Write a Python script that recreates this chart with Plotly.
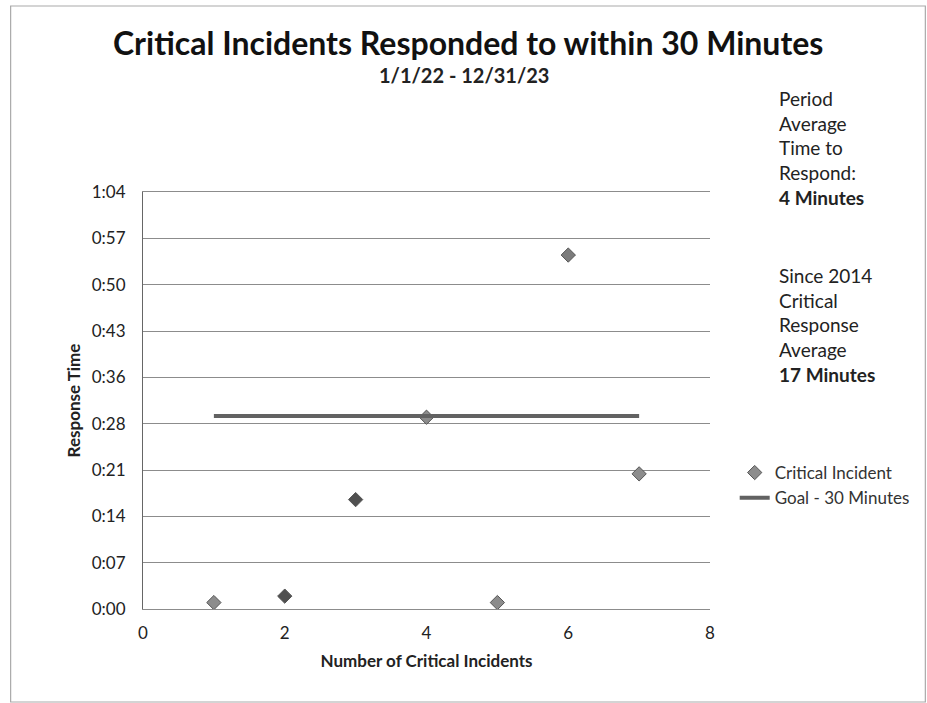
import plotly.graph_objects as go

# Data
incident_num = [1, 2, 3, 4, 5, 6, 7]
response_min = [1, 2, 17, 29.8, 1, 55, 21]
goal_x = [1, 7]
goal_y = [30, 30]
y_tick_labels = ["0:00", "0:07", "0:14", "0:21", "0:28", "0:36", "0:43", "0:50", "0:57", "1:04"]
y_tick_step = 7.2  # minutes (Excel 0.005 day)
x_ticks = [0, 2, 4, 6, 8]

FONT = "Lato, 'Open Sans', sans-serif"
L, R, T, B = 143, 717, 192, 609
PW, PH = R - L, B - T


def px(x):
    return (x - L) / PW


def py(y):
    return (B - y) / PH


marker_colors = ["#8c8c8c", "#505050", "#505050", "#8c8c8c", "#8c8c8c", "#7c7c7c", "#8c8c8c"]

fig = go.Figure()
fig.add_trace(go.Scatter(
    x=incident_num, y=response_min, mode="markers", name="Critical Incident",
    marker=dict(symbol="diamond", size=11, color=marker_colors, line=dict(color="#555555", width=1)),
))
fig.add_trace(go.Scatter(
    x=goal_x, y=goal_y, mode="lines", name="Goal - 30 Minutes",
    line=dict(color="#626262", width=4),
))

tickvals = [i * y_tick_step for i in range(len(y_tick_labels))]

fig.update_layout(
    width=927, height=703,
    margin=dict(l=L, r=927 - R, t=T, b=703 - B),
    paper_bgcolor="white", plot_bgcolor="white",
    font=dict(family=FONT, size=17, color="#222"),
    showlegend=True,
    legend=dict(x=px(742), y=py(455), xanchor="left", yanchor="top",
                font=dict(size=17, color="#333"), tracegroupgap=0,
                bgcolor="rgba(0,0,0,0)", itemwidth=30),
    xaxis=dict(range=[0, 8], tickvals=x_ticks, showgrid=False, zeroline=False,
               showline=True, mirror=True, linecolor="#8c8c8c", linewidth=1, ticks="",
               tickfont=dict(size=17, color="#222"), ticklabelstandoff=9,
               title=dict(text="<b>Number of Critical Incidents</b>", font=dict(size=17, color="#222"), standoff=12)),
    yaxis=dict(range=[0, tickvals[-1]], tickvals=tickvals, ticktext=y_tick_labels,
               showgrid=True, gridcolor="#8c8c8c", gridwidth=1, zeroline=False,
               showline=True, linecolor="#666", linewidth=1, ticks="",
               tickfont=dict(size=17, color="#222"), ticklabelstandoff=13,
               title=dict(text="<b>Response Time</b>", font=dict(size=17, color="#222"), standoff=6)),
)

# Chart border
fig.add_shape(type="rect", xref="paper", yref="paper",
              x0=px(9), x1=px(935), y0=py(702), y1=py(6),
              line=dict(color="#aaaaaa", width=1.2), layer="below")

# Title and subtitle
fig.add_annotation(text="<b>Critical Incidents Responded to within 30 Minutes</b>",
                   xref="paper", yref="paper", x=px(472), y=py(42),
                   showarrow=False, font=dict(size=32, color="#111"), xanchor="center", yanchor="middle")
fig.add_annotation(text="<b>1/1/22 - 12/31/23</b>",
                   xref="paper", yref="paper", x=px(468), y=py(75),
                   showarrow=False, font=dict(size=20, color="#222"), xanchor="center", yanchor="middle")

# Side notes
note1 = "Period<br>Average<br>Time to<br>Respond:<br><b>4 Minutes</b>"
note2 = "Since 2014<br>Critical<br>Response<br>Average<br><b>17 Minutes</b>"
fig.add_annotation(text=note1, xref="paper", yref="paper", x=px(785), y=py(85),
                   showarrow=False, align="left", xanchor="left", yanchor="top",
                   font=dict(size=19, color="#222"))
fig.add_annotation(text=note2, xref="paper", yref="paper", x=px(785), y=py(262),
                   showarrow=False, align="left", xanchor="left", yanchor="top",
                   font=dict(size=19, color="#222"))

fig.write_html("out.html")
